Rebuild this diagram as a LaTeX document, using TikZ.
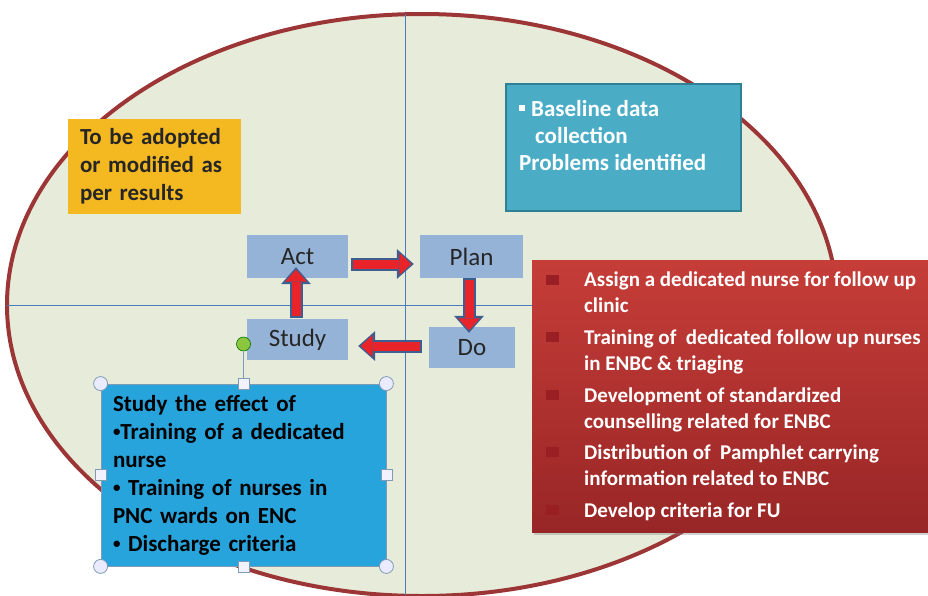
\documentclass[tikz,border=0pt]{standalone}
\usepackage{fontspec}
\setmainfont{Carlito}
\usetikzlibrary{arrows.meta,shadows}

\definecolor{rimred}{HTML}{9C3535}
\definecolor{ovalfill}{HTML}{E7ECDA}
\definecolor{axisblue}{HTML}{4A7EBB}
\definecolor{stepblue}{HTML}{95B3D7}
\definecolor{flowred}{HTML}{E8232A}
\definecolor{flowrim}{HTML}{3D5F8F}
\definecolor{notegold}{HTML}{F4B921}
\definecolor{noteteal}{HTML}{4BACC6}
\definecolor{tealrim}{HTML}{2F7F95}
\definecolor{studyblue}{HTML}{28A4DC}
\definecolor{handlegray}{HTML}{7F9AB5}
\definecolor{knobgreen}{HTML}{8CC63F}
\definecolor{boxred}{HTML}{C63D38}
\definecolor{boxdark}{HTML}{982626}
\definecolor{bulletred}{HTML}{9A1F24}

\newcommand{\smalldot}{{\fontsize{15}{15}\selectfont\raisebox{2.5pt}{\textbullet}}}

\tikzset{
  rim/.style={draw=rimred, line width=4pt, fill=ovalfill},
  axis/.style={draw=axisblue, line width=1pt},
  phase/.style={fill=stepblue, inner sep=0pt, text=black!85,
    font=\fontsize{25}{30}\selectfont},
  flow/.style={draw=flowred, line width=9pt, shorten >=2.5pt, shorten <=2pt,
    -{Triangle[length=12pt,width=22pt,line width=0pt]},
    preaction={draw=flowrim, line width=13pt, shorten >=0pt, shorten <=0pt,
      -{Triangle[length=17pt,width=30pt,line width=0pt]}}},
  goldnote/.style={fill=notegold, inner xsep=12pt, text width=149pt,
    minimum height=95pt, align=left, text=black!85,
    font=\bfseries\fontsize{23}{28}\selectfont},
  tealnote/.style={fill=noteteal, draw=tealrim, line width=1.5pt,
    minimum width=235pt, minimum height=127pt},
  tealtext/.style={anchor=base west, inner sep=0pt, align=left, text=white,
    font=\bfseries\fontsize{23}{27}\selectfont},
  effectbox/.style={fill=studyblue, draw=handlegray, line width=0.8pt,
    minimum width=285pt, minimum height=182pt, inner xsep=12pt,
    text width=261pt, align=left, text=black,
    font=\bfseries\fontsize{23}{28}\selectfont},
  cornerknob/.style={circle, draw=handlegray, fill=blue!8, line width=0.8pt,
    minimum size=14pt, inner sep=0pt},
  sideknob/.style={rectangle, draw=handlegray, fill=blue!5, line width=0.8pt,
    minimum size=11pt, inner sep=0pt},
  rotknob/.style={circle, draw=green!45!black, fill=knobgreen, line width=0.6pt,
    minimum size=14pt, inner sep=0pt},
  taskbox/.style={top color=boxred, bottom color=boxdark,
    minimum width=408pt, minimum height=272pt,
    drop shadow={shadow xshift=2pt, shadow yshift=-3pt, opacity=.35}},
  bullet/.style={fill=bulletred, minimum width=13pt, minimum height=10pt,
    inner sep=0pt},
  tasktext/.style={anchor=base west, inner sep=0pt, align=left, text=white,
    font=\bfseries\fontsize{21}{26}\selectfont},
}

\begin{document}
\begin{tikzpicture}[x=1pt,y=-1pt]
	\useasboundingbox (0,0) rectangle (928,595);
	\clip (0,0) rectangle (928,595);
	\fill[white] (0,0) rectangle (928,595);
	
	% oval and quadrant lines
	\draw[rim] (422,305) ellipse [x radius=415, y radius=291];
	\draw[axis] (405,14) -- (405,595);
	\draw[axis] (7,305) -- (837,305);
	
	% notes in the quadrants
	\node[goldnote] (adopt) at (154.5,166.5)
		{To be adopted\\\makebox[149pt][s]{or modified as}\\per results};
	\node[tealnote] (baseline) at (623.5,147.5) {};
	\node[tealtext] (baselinetxt) at (519,170)
		{\rule[5pt]{6pt}{6pt}\hspace{6pt}Baseline data\\
		 \hspace*{16pt}collection\\Problems  identified};
	
	% the cycle
	\node[phase, minimum width=101pt, minimum height=43pt] (act) at (297.5,256.5) {Act};
	\node[phase, minimum width=103pt, minimum height=43pt] (plan) at (471.5,256.5) {Plan};
	\node[phase, minimum width=86pt, minimum height=41pt] (do) at (472,347.5) {Do};
	\node[phase, minimum width=101pt, minimum height=41pt] (study) at (297.5,339.5) {Study};
	
	\draw[flow] ([xshift=3pt,yshift=-7.5pt]act.east) -- ([xshift=-6pt,yshift=-7.5pt]plan.west);
	\draw[flow] ([xshift=-2.5pt]plan.south) -- ([xshift=-3pt,yshift=-6pt]do.north);
	\draw[flow] ([xshift=-7pt,yshift=1.5pt]do.west) -- ([xshift=10pt,yshift=-6.5pt]study.east);
	\draw[flow] ([xshift=-1.5pt,yshift=1pt]study.north) -- ([xshift=-1.5pt,yshift=11pt]act.south);
	
	% selected text box
	\node[effectbox] (effect) at (243.5,475)
		{Study the effect of\\
		 \smalldot Training of a dedicated\\
		 nurse\\
		 \smalldot\ Training of nurses in\\
		 PNC wards on ENC\\
		 \smalldot\ Discharge criteria};
	\node[rotknob] (turn) at (243.5,344) {};
	\foreach \a in {north west,north east,south west,south east}
		\node[cornerknob] (c-\a) at (effect.\a) {};
	\foreach \a in {north,south,west,east}
		\node[sideknob] (s-\a) at (effect.\a) {};
	\draw[handlegray, line width=0.8pt] (turn) -- (s-north);
	
	% actions
	\node[taskbox] (tasks) at (736,396) {};
	\foreach \y in {280,337,395,452,510}
		\node[bullet] (b\y) at (552.5,\y) {};
	\node[tasktext] (t1) at (584,312) {Assign a dedicated nurse for follow up\\clinic};
	\node[tasktext] (t2) at (584,370) {Training of~ dedicated follow up nurses\\in ENBC \& triaging};
	\node[tasktext] (t3) at (584,428) {Development of standardized\\counselling related for ENBC};
	\node[tasktext] (t4) at (584,485) {Distribution of~ Pamphlet carrying\\information related to ENBC};
	\node[tasktext] (t5) at (584,517) {Develop criteria for FU};
	
\end{tikzpicture}
\end{document}
